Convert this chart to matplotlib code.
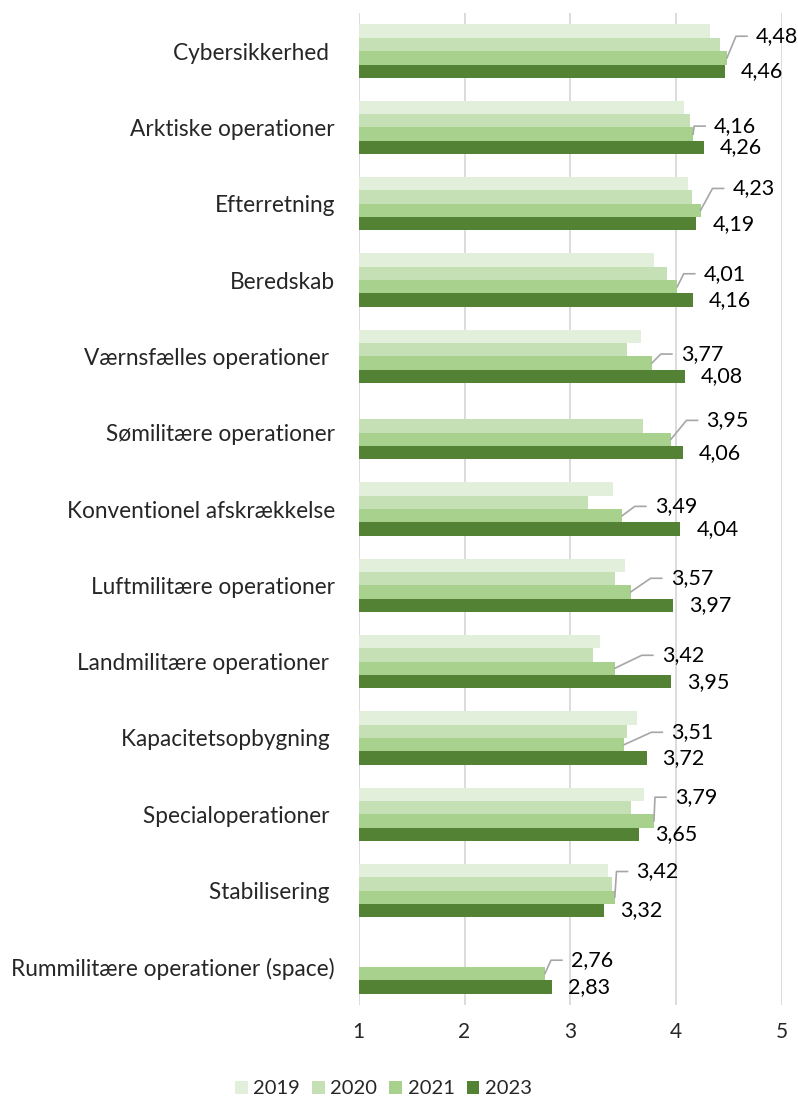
import matplotlib
matplotlib.use("Agg")
import matplotlib.pyplot as plt
import matplotlib.transforms as mtransforms
import numpy as np

plt.rcParams['font.family'] = ['Lato', 'DejaVu Sans']

categories = [
    "Cybersikkerhed ", "Arktiske operationer", "Efterretning", "Beredskab",
    "Værnsfælles operationer ", "Sømilitære operationer", "Konventionel afskrækkelse",
    "Luftmilitære operationer", "Landmilitære operationer ", "Kapacitetsopbygning ",
    "Specialoperationer ", "Stabilisering ", "Rummilitære operationer (space)",
]
years = ["2019", "2020", "2021", "2023"]
v2019 = [4.32, 4.07, 4.11, 3.79, 3.67, np.nan, 3.40, 3.52, 3.28, 3.63, 3.70, 3.36, np.nan]
v2020 = [4.41, 4.13, 4.15, 3.91, 3.54, 3.69, 3.17, 3.42, 3.21, 3.54, 3.57, 3.39, np.nan]
v2021 = [4.48, 4.16, 4.23, 4.01, 3.77, 3.95, 3.49, 3.57, 3.42, 3.51, 3.79, 3.42, 2.76]
v2023 = [4.46, 4.26, 4.19, 4.16, 4.08, 4.06, 4.04, 3.97, 3.95, 3.72, 3.65, 3.32, 2.83]
series = [v2019, v2020, v2021, v2023]
colors = ["#E2EFDA", "#C5E0B4", "#A9D18E", "#548235"]

# label placement offsets (pixels) for the 2021 labels with leader lines
lab21_dx = [29, 21, 32, 26.5, 29, 35.6, 32.6, 40, 47, 47, 21, 21.7, 26]
lab21_dy = [21.6, 8, 22, 13, 9, 19, 9.3, 13.7, 13, 12.3, 23.7, 25.7, 13.3]

W, H = 798, 1097
fig = plt.figure(figsize=(W / 100, H / 100), dpi=100)
ax = fig.add_axes([358.7 / W, 92 / H, (782 - 358.7) / W, (1005 - 13) / H])

n = len(categories)
y = np.arange(n)
h = 0.175
for k, (vals, c) in enumerate(zip(series, colors)):
    ax.barh(y + (k - 1.5) * h, vals, height=h, color=c, left=0, zorder=2, label=years[k])

ax.set_xlim(1, 5)
ax.set_ylim(n - 0.5, -0.5)
ax.set_xticks([1, 2, 3, 4, 5])
ax.set_xticklabels(["1", "2", "3", "4", "5"], fontsize=15, color="#262626")
ax.set_yticks(y)
ax.set_yticklabels(categories, fontsize=16.3, color="#262626")
ax.tick_params(axis='both', length=0)
ax.tick_params(axis='y', pad=17)
ax.tick_params(axis='x', pad=12)
ax.grid(axis='x', color="#D9D9D9", lw=1.3, zorder=0)
for s in ["top", "right", "bottom", "left"]:
    ax.spines[s].set_visible(False)

label_font = 15.5
# 2023 labels
for i, v in enumerate(v2023):
    tr = mtransforms.offset_copy(ax.transData, fig=fig, x=16, y=0, units='dots')
    ax.text(v, y[i] + 1.5 * h, f"{v:.2f}".replace(".", ","), transform=tr,
            ha='left', va='center', fontsize=label_font, color="#000000")

# 2021 labels with leader lines
inv = ax.transData.inverted()
for i, v in enumerate(v2021):
    yc = y[i] + 0.5 * h
    px, py = ax.transData.transform((v, yc))
    lx, ly = px + lab21_dx[i], py + lab21_dy[i]
    hx1 = lx - 9
    hx0 = hx1 - 11
    pts = inv.transform([(px, py), (hx0, ly), (hx1, ly)])
    ax.plot(pts[:, 0], pts[:, 1], color="#A6A6A6", lw=1.2, zorder=3, clip_on=False)
    tr = mtransforms.offset_copy(ax.transData, fig=fig, x=lab21_dx[i], y=lab21_dy[i], units='dots')
    ax.text(v, yc, f"{v:.2f}".replace(".", ","), transform=tr,
            ha='left', va='center', fontsize=label_font, color="#000000")

handles, labels = ax.get_legend_handles_labels()
fig.legend(handles, labels, loc='center', bbox_to_anchor=(383.5 / W, 1 - 1089 / H),
           ncol=4, frameon=False, fontsize=14.5, handlelength=0.62, handleheight=0.62,
           handletextpad=0.28, columnspacing=0.6, labelcolor="#262626")

fig.savefig("out.png", dpi=100, facecolor="white")
